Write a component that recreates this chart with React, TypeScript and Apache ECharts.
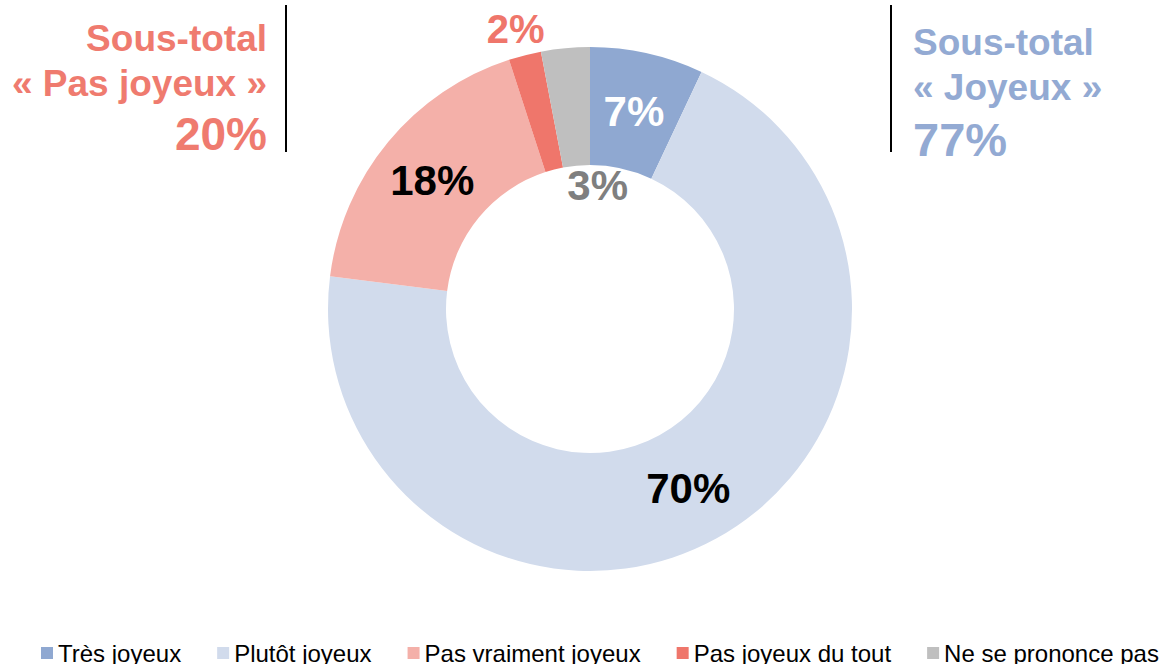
import React, { useEffect, useRef } from "react";
import * as echarts from "echarts";

const categories = ["Très joyeux", "Plutôt joyeux", "Pas vraiment joyeux", "Pas joyeux du tout", "Ne se prononce pas"];
const values = [7, 70, 18, 2, 3];
const colors = ["#8FA8D1", "#D1DBEC", "#F4B0A9", "#EF766B", "#BFBFBF"];
const labelColors = ["#FFFFFF", "#000000", "#000000", "#EF766B", "#7F7F7F"];
const labelOffsets: [number, number][] = [[-1, 4], [-1, -1], [1, 3], [-23, -80], [27, 82]];
const subtotalLeft = ["Sous-total", "« Pas joyeux »", "20%"];
const subtotalRight = ["Sous-total", "« Joyeux »", "77%"];

const FONT = "'Liberation Sans', Arial, sans-serif";

export default function App() {
  const ref = useRef<HTMLDivElement>(null);
  useEffect(() => {
    document.body.style.margin = "0";
    if (!ref.current) return;
    const chart = echarts.init(ref.current, undefined, { renderer: "svg" });
    const red = "#EF7B6F";
    const blue = "#93AAD3";
    chart.setOption({
      animation: false,
      legend: {
        data: categories,
        left: 41,
        top: 641,
        width: 1120,
        padding: 0,
        itemWidth: 12,
        itemHeight: 12,
        itemGap: 36,
        icon: "rect",
        textStyle: { fontFamily: FONT, fontSize: 24, color: "#000", padding: [0, 0, 0, 0] },
      },
      graphic: [
        { type: "text", x: 267, y: 38, style: { text: subtotalLeft[0], fill: red, font: `bold 37px ${FONT}`, align: "right", verticalAlign: "middle" } },
        { type: "text", x: 267, y: 83, style: { text: subtotalLeft[1], fill: red, font: `bold 37px ${FONT}`, align: "right", verticalAlign: "middle" } },
        { type: "text", x: 267, y: 134, style: { text: subtotalLeft[2], fill: red, font: `bold 46px ${FONT}`, align: "right", verticalAlign: "middle" } },
        { type: "text", x: 913, y: 42, style: { text: subtotalRight[0], fill: blue, font: `bold 37px ${FONT}`, align: "left", verticalAlign: "middle" } },
        { type: "text", x: 913, y: 87, style: { text: subtotalRight[1], fill: blue, font: `bold 37px ${FONT}`, align: "left", verticalAlign: "middle" } },
        { type: "text", x: 913, y: 139, style: { text: subtotalRight[2], fill: blue, font: `bold 47px ${FONT}`, align: "left", verticalAlign: "middle" } },
        { type: "line", shape: { x1: 286, y1: 5, x2: 286, y2: 152 }, style: { stroke: "#000", lineWidth: 2 } },
        { type: "line", shape: { x1: 891, y1: 5, x2: 891, y2: 152 }, style: { stroke: "#000", lineWidth: 2 } },
      ],
      series: [
        {
          type: "pie",
          center: [590, 309],
          radius: [144, 262],
          startAngle: 90,
          clockwise: true,
          avoidLabelOverlap: false,
          labelLine: { show: false },
          data: categories.map((c, i) => ({
            name: c,
            value: values[i],
            itemStyle: { color: colors[i] },
            label: {
              show: true,
              position: "inside",
              formatter: `${values[i]}%`,
              color: labelColors[i],
              fontFamily: FONT,
              fontWeight: "bold",
              fontSize: i === 3 ? 40 : 42,
              offset: labelOffsets[i],
              textBorderWidth: 0,
            },
          })),
        },
      ],
    });
    return () => chart.dispose();
  }, []);
  return <div ref={ref} style={{ width: 1161, height: 664 }} />;
}
